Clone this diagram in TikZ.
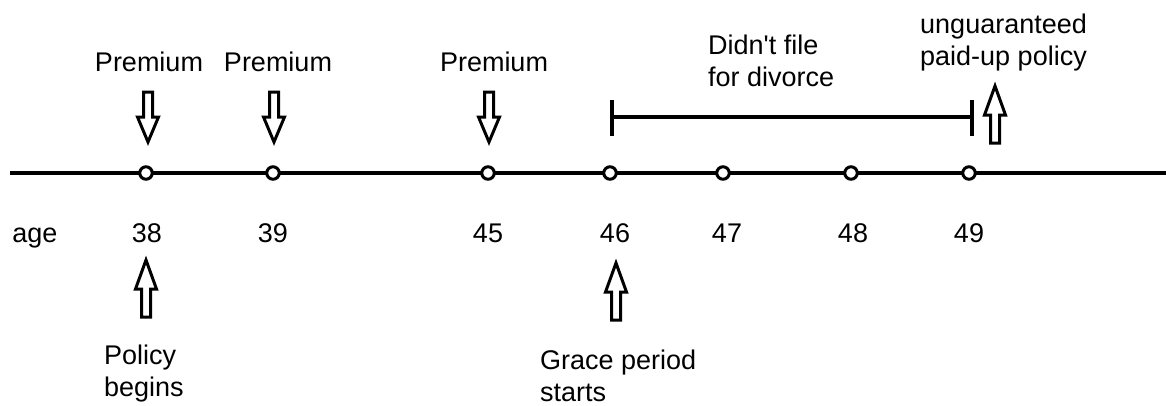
\documentclass[tikz,border=0pt]{standalone}
\usepackage{fontspec}
\setmainfont{Liberation Sans}
\begin{document}
\begin{tikzpicture}[x=1pt,y=-1pt,
  lbl/.style={font=\fontsize{27}{32}\selectfont, inner sep=0pt},
  lblL/.style={lbl, anchor=west, align=left},
  dot/.style={circle, draw, fill=white, line width=3pt, minimum size=12.5pt, inner sep=0pt},
  pics/blockdown/.style={code={\draw[line width=3pt, line join=miter, fill=white]
     (-4.5,0) -- (-4.5,25) -- (-10.5,25) -- (0,50) -- (10.5,25) -- (4.5,25) -- (4.5,0) -- cycle;}},
  pics/blockup/.style={code={\draw[line width=3pt, line join=miter, fill=white]
     (-4.5,0) -- (-4.5,-28) -- (-10.5,-28) -- (0,-57) -- (10.5,-28) -- (4.5,-28) -- (4.5,0) -- cycle;}}]
\useasboundingbox (0,0) rectangle (1166,405);
% timeline
\coordinate (L) at (10,173);
\coordinate (R) at (1166,173);
\draw[line width=3.4pt] (L) -- (R);
\foreach \n/\x in {a/146,b/273,c/488,d/610,e/723,f/851,g/969}
  \node[dot] (\n) at (\x,173) {};
% ages
\node[lbl, anchor=base] (age) at (35,242) {age};
\foreach \n/\x/\t in {n38/147/38,n39/273/39,n45/488/45,n46/615/46,n47/727/47,n48/853/48,n49/969/49}
  \node[lbl, anchor=base] (\n) at (\x,242) {\t};
% premiums
\node[lbl] (p1) at (149,62) {Premium};
\node[lbl] (p2) at (278,62) {Premium};
\node[lbl] (p3) at (494,62) {Premium};
\pic at (148,92) {blockdown};
\pic at (274,92) {blockdown};
\pic at (489,92) {blockdown};
% bracket
\coordinate (bs) at (612,117);
\coordinate (be) at (972,117);
\draw[line width=3.4pt] (bs) -- (be);
\draw[line width=3.4pt] ([yshift=-19pt]bs) -- ([yshift=17pt]bs);
\draw[line width=3.4pt] ([yshift=-19pt]be) -- ([yshift=17pt]be);
\node[lblL] (div) at (708,61) {Didn\textquotesingle t file\\for divorce};
\node[lblL] (ung) at (920,43) {unguaranteed\\paid-up policy};
\pic at (995,143) {blockup};
% bottom arrows
\pic at (146,317) {blockup};
\pic at (616,320) {blockup};
\node[lblL] (pb) at (104,374) {Policy\\begins};
\node[lblL] (gp) at (540,376) {Grace period\\starts};
\end{tikzpicture}
\end{document}
